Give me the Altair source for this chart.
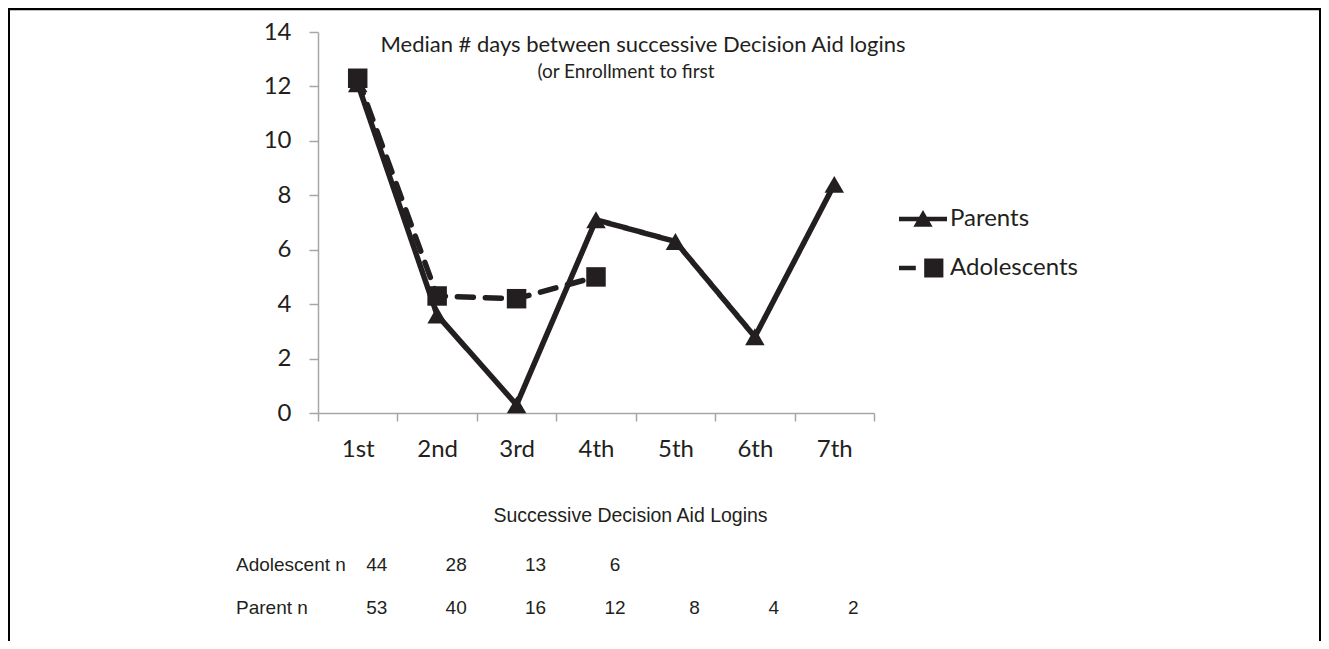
import altair as alt
import pandas as pd

# ---- data ----
logins = ["1st", "2nd", "3rd", "4th", "5th", "6th", "7th"]
parents = [12.1, 3.6, 0.3, 7.1, 6.3, 2.8, 8.4]
adolescents = [12.3, 4.3, 4.2, 5.0]
adolescent_n = [44, 28, 13, 6]
parent_n = [53, 40, 16, 12, 8, 4, 2]
series = ["Parents", "Adolescents"]
title_text = "Median # days between successive Decision Aid logins"
subtitle_text = "(or Enrollment to first"
x_title = "Successive Decision Aid Logins"
row_labels = ["Adolescent n", "Parent n"]

INK = "#231f20"
GREY = "#a6a6a6"

df = pd.concat([
    pd.DataFrame({"login": logins[:len(parents)], "days": parents, "group": "Parents"}),
    pd.DataFrame({"login": logins[:len(adolescents)], "days": adolescents, "group": "Adolescents"}),
], ignore_index=True)

ado_n_df = pd.DataFrame({"login": logins[:len(adolescent_n)], "n": [str(v) for v in adolescent_n]})
par_n_df = pd.DataFrame({"login": logins[:len(parent_n)], "n": [str(v) for v in parent_n]})

x_enc = alt.X(
    "login:N", sort=logins, bandPosition=0.5,
    scale=alt.Scale(type="band", domain=logins, paddingInner=0, paddingOuter=0),
    axis=alt.Axis(
        title=x_title, titleFont="Liberation Sans", titleFontSize=19.5, titleFontWeight="normal",
        titleColor=INK, titlePadding=45, titleX=312, titleAlign="center",
        labelFont="Lato", labelFontSize=24, labelColor=INK, labelPadding=16, labelAngle=0,
        domainColor=GREY, domainWidth=1.5, tickColor=GREY, tickWidth=1.5, tickSize=8,
        tickBand="extent", grid=False,
    ),
)
y_enc = alt.Y(
    "days:Q",
    scale=alt.Scale(domain=[0, 14], nice=False, zero=True),
    axis=alt.Axis(
        title=None, values=[0, 2, 4, 6, 8, 10, 12, 14],
        labelFont="Lato", labelFontSize=24, labelColor=INK, labelPadding=18,
        domainColor=GREY, domainWidth=1.5, tickColor=GREY, tickWidth=1.5, tickSize=9, grid=False,
    ),
)

base = alt.Chart(df)

lines = base.mark_line(color=INK, strokeWidth=5.5, strokeCap="round", strokeJoin="round").encode(
    x=x_enc, y=y_enc,
    strokeDash=alt.StrokeDash("group:N", scale=alt.Scale(domain=series, range=[[1, 0], [16, 12]]), legend=None),
    detail="group:N",
)

points = base.mark_point(filled=True, opacity=1, color=INK, size=380).encode(
    x=x_enc, y=y_enc,
    shape=alt.Shape("group:N", scale=alt.Scale(domain=series, range=["triangle-up", "square"]), legend=None),
)

legend_paths = [
    "M-1,-0.09H1V0.09H-1Z M-0.4,0.32L0,-0.38L0.4,0.32Z",
    "M-1,-0.09H-0.3V0.09H-1Z M0.05,-0.4H0.85V0.4H0.05Z",
]
legend_layer = base.transform_filter("false").mark_point(filled=True, opacity=1, color=INK).encode(
    x=x_enc, y=y_enc,
    shape=alt.Shape(
        "group:N",
        scale=alt.Scale(domain=series, range=legend_paths),
        legend=alt.Legend(
            title=None, orient="none", legendX=581, legendY=163,
            labelFont="Lato", labelFontSize=24, labelColor=INK, labelOffset=3,
            symbolSize=2304, symbolFillColor=INK, symbolStrokeWidth=0, rowPadding=13,
        ),
    ),
)

title_layer = alt.Chart(pd.DataFrame({"t": [title_text]})).mark_text(
    font="Lato", fontSize=22, color=INK, align="center", baseline="middle"
).encode(text="t:N", x=alt.value(325), y=alt.value(13))

subtitle_layer = alt.Chart(pd.DataFrame({"t": [subtitle_text]})).mark_text(
    font="Lato", fontSize=19, color=INK, align="center", baseline="middle"
).encode(text="t:N", x=alt.value(308), y=alt.value(40))

row1_layer = alt.Chart(pd.DataFrame({"label": [row_labels[0]]})).mark_text(
    font="Liberation Sans", fontSize=19, color=INK, align="left", baseline="middle"
).encode(text="label:N", x=alt.value(-82), y=alt.value(533))

row2_layer = alt.Chart(pd.DataFrame({"label": [row_labels[1]]})).mark_text(
    font="Liberation Sans", fontSize=19, color=INK, align="left", baseline="middle"
).encode(text="label:N", x=alt.value(-82), y=alt.value(576))

ado_n_layer = alt.Chart(ado_n_df).mark_text(
    font="Liberation Sans", fontSize=19, color=INK, align="center", baseline="middle", dx=19
).encode(x=x_enc, text="n:N", y=alt.value(533))

par_n_layer = alt.Chart(par_n_df).mark_text(
    font="Liberation Sans", fontSize=19, color=INK, align="center", baseline="middle", dx=19
).encode(x=x_enc, text="n:N", y=alt.value(576))

frame_df = pd.DataFrame({"k": [0]})
frame_top = alt.Chart(frame_df).mark_rule(color="black", strokeWidth=2.5).encode(
    x=alt.value(-310), x2=alt.value(1003), y=alt.value(-23)
)
frame_left = alt.Chart(frame_df).mark_rule(color="black", strokeWidth=2).encode(
    x=alt.value(-309), y=alt.value(-24), y2=alt.value(640)
)
frame_right = alt.Chart(frame_df).mark_rule(color="black", strokeWidth=2).encode(
    x=alt.value(1002), y=alt.value(-24), y2=alt.value(640)
)

chart = alt.layer(
    lines, points, legend_layer, title_layer, subtitle_layer, row1_layer, row2_layer,
    ado_n_layer, par_n_layer, frame_top, frame_left, frame_right,
).resolve_scale(shape="independent").properties(
    width=556, height=381,
    background="white",
    autosize=alt.AutoSizeParams(type="none"),
    padding={"left": 310, "top": 24, "right": 447, "bottom": 228},
).configure_view(strokeWidth=0, stroke="transparent")

chart.save("out.html", embed_options={"renderer": "svg", "actions": False})
